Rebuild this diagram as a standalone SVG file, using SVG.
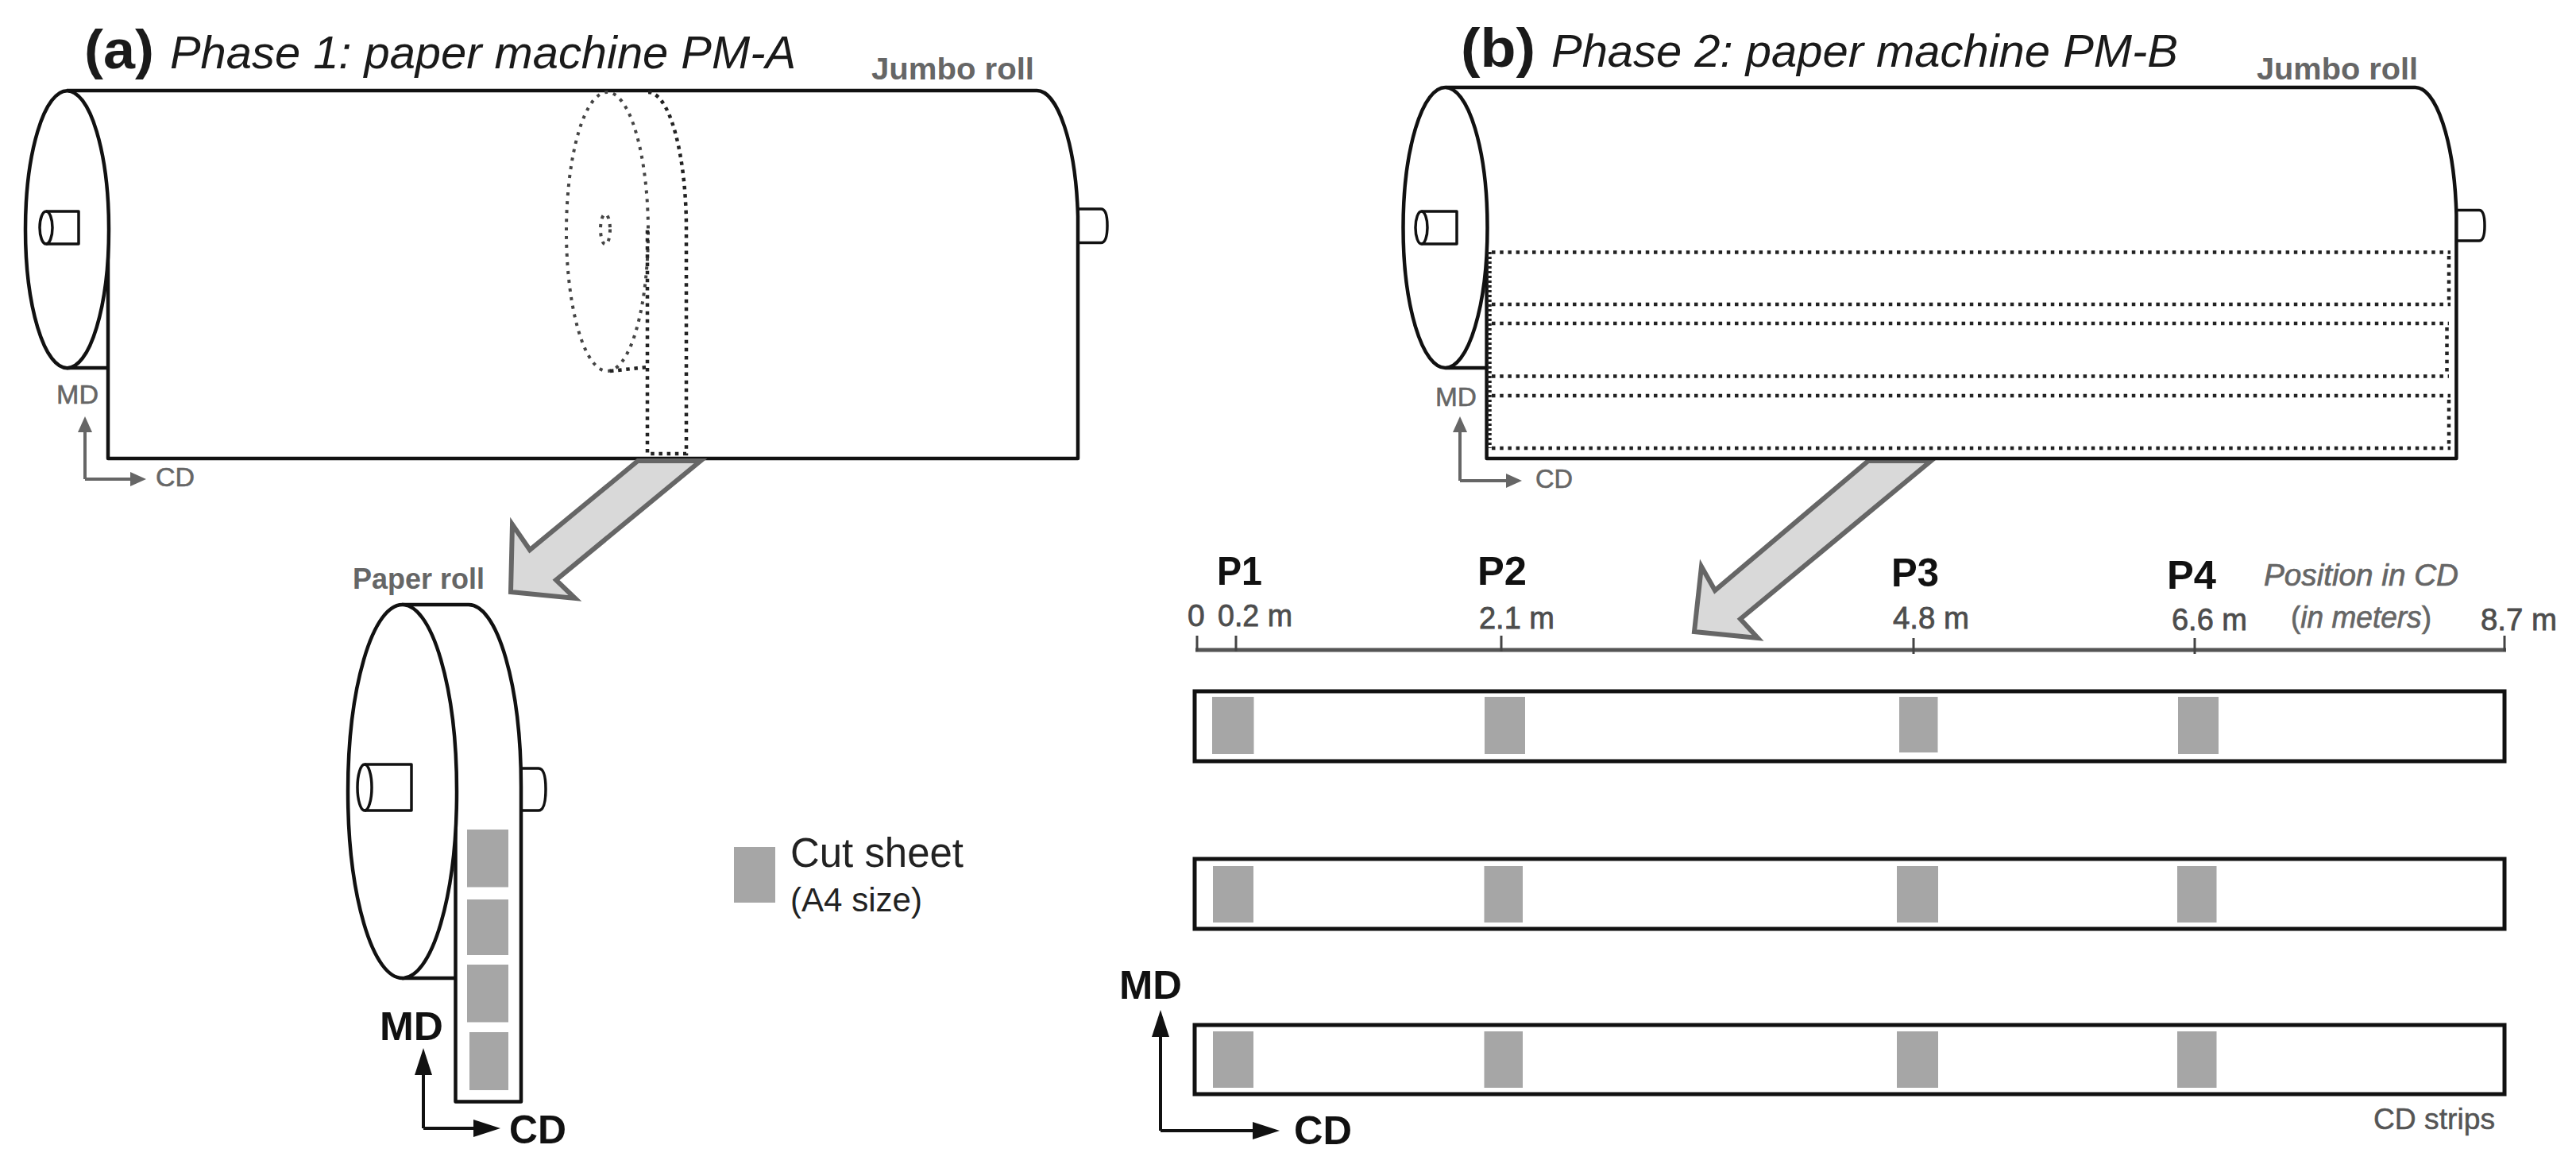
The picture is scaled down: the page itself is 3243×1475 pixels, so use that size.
<svg xmlns="http://www.w3.org/2000/svg" width="3243" height="1475" viewBox="0 0 3243 1475">
<style>
text{font-family:"Liberation Sans",Arial,sans-serif}
.ln{fill:none;stroke:#111;stroke-width:4.5;stroke-linejoin:round}
.fw{fill:#fff;stroke:#111;stroke-width:4.5}
.hub{fill:none;stroke:#111;stroke-width:3.5;stroke-linejoin:round}
.dot{fill:none;stroke:#222;stroke-width:4.5;stroke-dasharray:4.500 5.700}
.dotg{fill:none;stroke:#444;stroke-width:4;stroke-dasharray:4 7}
.dense{fill:none;stroke:#222;stroke-width:5.500;stroke-dasharray:3 3}
.big{fill:#d9d9d9;stroke:#666;stroke-width:6;stroke-linejoin:miter}
.sheet{fill:#a6a6a6}
.strip{fill:#fff;stroke:#111;stroke-width:5}
.axg{fill:none;stroke:#666;stroke-width:4}
.axk{fill:none;stroke:#111;stroke-width:4}
.scale{fill:none;stroke:#555;stroke-width:5}
.tick{fill:none;stroke:#444;stroke-width:3}
.ttl{font-size:58px;font-style:italic;fill:#1a1a1a}
.tag{font-size:68px;font-weight:bold;fill:#1a1a1a}
.glab{font-size:39px;font-weight:bold;fill:#666}
.gsm{font-size:34px;fill:#666;stroke:#666;stroke-width:.6}
.kb{font-size:50px;font-weight:bold;fill:#111}
.num{font-size:39px;fill:#4d4d4d;stroke:#4d4d4d;stroke-width:.8}
.pos{font-size:38px;font-style:italic;fill:#666;stroke:#666;stroke-width:.7}
</style>
<defs>
<marker id="hk" markerUnits="userSpaceOnUse" markerWidth="36" markerHeight="24" refX="0" refY="12" orient="auto"><path d="M0,1 L34,12 L0,23 z" fill="#111"/></marker>
<marker id="hg" markerUnits="userSpaceOnUse" markerWidth="24" markerHeight="22" refX="0" refY="11" orient="auto"><path d="M0,2 L20,11 L0,20 z" fill="#666"/></marker>
</defs>
<rect width="3243" height="1475" fill="#fff"/>

<g id="panel-a-title">
<text class="tag" x="106" y="86" textLength="88" lengthAdjust="spacingAndGlyphs">(a)</text>
<text class="ttl" x="214" y="86" textLength="788" lengthAdjust="spacingAndGlyphs">Phase 1: paper machine PM-A</text>
</g>

<g id="jumbo-roll-a">
<path class="ln" d="M84,114 H1305 A52,175 0 0 1 1357,272 V577 H136 V300"/>
<path class="ln" d="M84,463 H136"/>
<path class="hub" d="M1357,263 H1386 Q1394,263 1394,284 Q1394,305.500 1386,305.500 H1357"/>
<ellipse class="fw" cx="84.500" cy="288.700" rx="52.500" ry="174.500"/>
<path class="hub" d="M58,266 H99 V307 H58"/>
<ellipse class="hub" cx="58" cy="286.500" rx="8" ry="20.500"/>
<text class="glab" x="1097" y="100" textLength="205" lengthAdjust="spacingAndGlyphs">Jumbo roll</text>
</g>

<g id="paper-roll-outline-a">
<ellipse class="dotg" cx="764.500" cy="291.500" rx="51.500" ry="175.500"/>
<ellipse class="dotg" cx="762" cy="288.500" rx="6" ry="19"/>
<path class="dot" d="M816,116 A48,172 0 0 1 864,290 V571 H815 V286"/>
<path class="dot" d="M768,467 L815,462"/>
</g>

<g id="axes-a">
<path class="axg" d="M107,603 V544" marker-end="url(#hg)"/>
<path class="axg" d="M107,603 H164" marker-end="url(#hg)"/>
<text class="gsm" x="71" y="508" textLength="53" lengthAdjust="spacingAndGlyphs">MD</text>
<text class="gsm" x="196" y="612" textLength="49" lengthAdjust="spacingAndGlyphs">CD</text>
</g>

<g id="connectors">
<path class="big" d="M803,580 H882 L700,730 L724,753 L643,745 L645,660 L667,692 z"/>
<path class="big" d="M2352,580 H2431 L2191,779 L2213,803 L2133,795 L2142,713 L2159,743 z"/>
</g>

<g id="paper-roll">
<path class="ln" d="M506,761 H590 A66,229 0 0 1 656,990 V1386.500 H573.500 V1000"/>
<path class="ln" d="M506,1231 H573.500"/>
<path class="hub" d="M656,967 H678 Q687,967 687,993 Q687,1020 678,1020 H656"/>
<ellipse class="fw" cx="506.500" cy="996" rx="68.500" ry="235"/>
<path class="hub" d="M459,962 H518 V1020 H459"/>
<ellipse class="hub" cx="459" cy="991" rx="9" ry="29"/>
<rect class="sheet" x="588" y="1044" width="52" height="72.500"/>
<rect class="sheet" x="588" y="1132" width="52" height="70"/>
<rect class="sheet" x="588" y="1214" width="52" height="72.500"/>
<rect class="sheet" x="591" y="1299" width="49" height="73"/>
<text class="glab" x="444" y="741" textLength="166" lengthAdjust="spacingAndGlyphs" style="font-size:37px">Paper roll</text>
</g>

<g id="axes-paper-roll">
<path class="axk" d="M533,1420 V1353" marker-end="url(#hk)"/>
<path class="axk" d="M533,1420 H596" marker-end="url(#hk)"/>
<text class="kb" x="478" y="1309" textLength="80" lengthAdjust="spacingAndGlyphs">MD</text>
<text class="kb" x="641" y="1439" textLength="72" lengthAdjust="spacingAndGlyphs">CD</text>
</g>

<g id="legend">
<rect class="sheet" x="924" y="1066" width="52" height="70"/>
<text x="995" y="1091" font-size="51" fill="#222" textLength="218" lengthAdjust="spacingAndGlyphs">Cut sheet</text>
<text x="995" y="1147" font-size="42" fill="#222" textLength="166" lengthAdjust="spacingAndGlyphs">(A4 size)</text>
</g>

<g id="panel-b-title">
<text class="tag" x="1839" y="84" textLength="94" lengthAdjust="spacingAndGlyphs">(b)</text>
<text class="ttl" x="1953" y="84" textLength="789" lengthAdjust="spacingAndGlyphs">Phase 2: paper machine PM-B</text>
</g>

<g id="jumbo-roll-b">
<path class="ln" d="M1820,110 H3040 A52,176 0 0 1 3092.400,270 V577 H1871.600 V300"/>
<path class="ln" d="M1820,463 H1871.600"/>
<path class="hub" d="M3092.400,264.500 H3121 Q3128,264.500 3128,284 Q3128,303 3121,303 H3092.400"/>
<ellipse class="fw" cx="1819.500" cy="286.500" rx="53" ry="176.500"/>
<path class="hub" d="M1789.500,266 H1834 V307 H1789.500"/>
<ellipse class="hub" cx="1789.500" cy="286.500" rx="7.500" ry="20.500"/>
<path class="dot" d="M1878,317.500 H3085 M1878,383 H3085 M1878,407 H3083 M1878,473.500 H3083 M1878,498 H3085 M1878,564 H3085"/>
<path class="dot" d="M3083,322 V380 M3080.500,412 V470 M3083,503 V561"/>
<path class="dense" d="M1875,317 V564"/>
<text class="glab" x="2841" y="100" textLength="203" lengthAdjust="spacingAndGlyphs">Jumbo roll</text>
</g>

<g id="axes-b">
<path class="axg" d="M1838,605 V544" marker-end="url(#hg)"/>
<path class="axg" d="M1838,605 H1896" marker-end="url(#hg)"/>
<text class="gsm" x="1807" y="511" textLength="52" lengthAdjust="spacingAndGlyphs">MD</text>
<text class="gsm" x="1933" y="614" textLength="47" lengthAdjust="spacingAndGlyphs">CD</text>
</g>

<g id="position-scale">
<path class="scale" d="M1505,818 H3155"/>
<path class="tick" d="M1507,800 V820 M1556,800 V820 M1890,800 V820 M2409,803 V823 M2763,803 V823 M3153,800 V820"/>
<text class="kb" x="1532" y="736" textLength="57" lengthAdjust="spacingAndGlyphs">P1</text>
<text class="kb" x="1860" y="736" textLength="62" lengthAdjust="spacingAndGlyphs">P2</text>
<text class="kb" x="2381" y="738" textLength="60" lengthAdjust="spacingAndGlyphs">P3</text>
<text class="kb" x="2728" y="741" textLength="62" lengthAdjust="spacingAndGlyphs">P4</text>
<text class="num" x="1495" y="788">0</text>
<text class="num" x="1533" y="788" textLength="94" lengthAdjust="spacingAndGlyphs">0.2 m</text>
<text class="num" x="1862" y="791" textLength="95" lengthAdjust="spacingAndGlyphs">2.1 m</text>
<text class="num" x="2383" y="791" textLength="96" lengthAdjust="spacingAndGlyphs">4.8 m</text>
<text class="num" x="2734" y="793" textLength="95" lengthAdjust="spacingAndGlyphs">6.6 m</text>
<text class="num" x="3123" y="793" textLength="96" lengthAdjust="spacingAndGlyphs">8.7 m</text>
<text class="pos" x="2850" y="737" textLength="245" lengthAdjust="spacingAndGlyphs">Position in CD</text>
<text class="pos" x="2884" y="790" textLength="177" lengthAdjust="spacingAndGlyphs"><tspan font-style="normal">(</tspan>in meters<tspan font-style="normal">)</tspan></text>
</g>

<g id="cd-strip-1">
<rect class="strip" x="1504" y="870" width="1649" height="88"/>
<rect class="sheet" x="1526" y="877" width="52.500" height="72"/>
<rect class="sheet" x="1869" y="877" width="51" height="72"/>
<rect class="sheet" x="2391" y="877" width="48.500" height="70"/>
<rect class="sheet" x="2742" y="877" width="51" height="72"/>
</g>
<g id="cd-strip-2">
<rect class="strip" x="1504" y="1081" width="1649" height="88"/>
<rect class="sheet" x="1527" y="1090" width="51" height="71"/>
<rect class="sheet" x="1868.500" y="1090" width="48.500" height="71"/>
<rect class="sheet" x="2388" y="1090" width="52" height="71"/>
<rect class="sheet" x="2741" y="1090" width="49.500" height="71"/>
</g>
<g id="cd-strip-3">
<rect class="strip" x="1504" y="1290" width="1649" height="87"/>
<rect class="sheet" x="1527" y="1298" width="51" height="71"/>
<rect class="sheet" x="1868.500" y="1298" width="48.500" height="71"/>
<rect class="sheet" x="2388" y="1298" width="52" height="71"/>
<rect class="sheet" x="2741" y="1298" width="49.500" height="71"/>
<text x="2988" y="1421" font-size="36" fill="#555" stroke="#555" stroke-width=".5" textLength="153" lengthAdjust="spacingAndGlyphs">CD strips</text>
</g>

<g id="axes-strips">
<path class="axk" d="M1461,1423 V1305" marker-end="url(#hk)"/>
<path class="axk" d="M1461,1423 H1577" marker-end="url(#hk)"/>
<text class="kb" x="1409" y="1257" textLength="79" lengthAdjust="spacingAndGlyphs">MD</text>
<text class="kb" x="1629" y="1440" textLength="73" lengthAdjust="spacingAndGlyphs">CD</text>
</g>
</svg>
